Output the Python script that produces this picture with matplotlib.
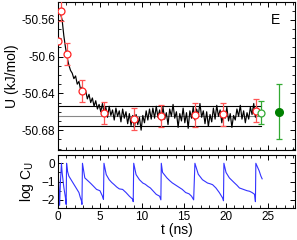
import numpy as np
import matplotlib
matplotlib.use("Agg")
import matplotlib.pyplot as plt
from matplotlib.ticker import MultipleLocator

plt.rcParams['font.family'] = ['Liberation Sans', 'DejaVu Sans']

# energy trace (kJ/mol), sampled every 0.2 ns from 0.1 ns
u_trace = [
    -50.551, -50.553, -50.560, -50.577, -50.590, -50.601, -50.609, -50.615, -50.618, -50.624,
    -50.621, -50.630, -50.627, -50.636, -50.633, -50.641, -50.637, -50.646, -50.641, -50.650,
    -50.645, -50.654, -50.648, -50.657, -50.652, -50.660, -50.651, -50.662, -50.655, -50.666,
    -50.654, -50.664, -50.658, -50.669, -50.656, -50.665, -50.659, -50.671, -50.657, -50.667,
    -50.660, -50.673, -50.662, -50.675, -50.664, -50.678, -50.663, -50.674, -50.666, -50.680,
    -50.664, -50.672, -50.659, -50.669, -50.657, -50.668, -50.656, -50.667, -50.654, -50.666,
    -50.658, -50.670, -50.655, -50.668, -50.661, -50.674, -50.657, -50.665, -50.652, -50.667,
    -50.660, -50.677, -50.662, -50.670, -50.656, -50.672, -50.661, -50.678, -50.659, -50.667,
    -50.655, -50.669, -50.657, -50.664, -50.651, -50.666, -50.659, -50.673, -50.660, -50.676,
    -50.663, -50.671, -50.656, -50.668, -50.653, -50.665, -50.658, -50.672, -50.660, -50.667,
    -50.655, -50.670, -50.662, -50.677, -50.664, -50.669, -50.657, -50.665, -50.653, -50.668,
    -50.659, -50.672, -50.661, -50.668, -50.655, -50.663, -50.651, -50.666, -50.656, -50.664,
    -50.660,
]
t_trace = np.linspace(0.1, 24.1, len(u_trace))

# block averages
t_blocks = [0.0, 0.36, 1.03, 2.86, 5.5, 9.0, 12.3, 16.3, 19.7, 23.6]
u_blocks = [-50.5835, -50.550, -50.597, -50.6375, -50.6616, -50.668, -50.6646, -50.6638, -50.6627, -50.659]
err_blocks = [0.0, 0.011, 0.0117, 0.0123, 0.0117, 0.0123, 0.0119, 0.013, 0.0126, 0.0126]

# equilibrated estimate and final estimate
t_open, u_open, err_open = 24.2, -50.661, 0.0122
t_final, u_final, err_final = 26.3, -50.6598, 0.0303

mean_u = -50.6646
sd_u = 0.0111
t_line_end = 24.2

# log autocorrelation
t_corr = [0.0, 0.1, 0.2, 0.3, 0.42, 0.5, 0.6, 0.7, 0.8, 0.9, 0.98,
          1.03, 1.15, 1.3, 1.5, 1.7, 1.9, 2.1, 2.3, 2.5, 2.65, 2.8, 2.86,
          2.92, 3.2, 3.6, 3.9, 4.2, 4.6, 5.0, 5.3, 5.42,
          5.48, 5.75, 6.1, 6.4, 6.7, 7.0, 7.3, 7.7, 8.1, 8.5, 8.9, 8.96,
          9.02, 9.3, 9.7, 10.1, 10.4, 10.7, 11.0, 11.3, 11.7, 12.1, 12.25,
          12.3, 12.45, 12.97, 13.3, 13.6, 14.2, 14.8, 15.2, 15.6, 15.9, 16.15,
          16.3, 16.7, 17.2, 17.8, 18.1, 18.4, 18.8, 19.2, 19.6, 19.7,
          19.75, 20.0, 20.4, 21.0, 21.3, 21.6, 22.2, 22.5, 22.8, 23.1, 23.4, 23.5,
          23.55, 23.95, 24.15, 24.3]
logc = [-0.1, -1.2, -2.3, -1.0, 0.0, -0.5, -0.9, -1.3, -1.6, -1.9, -2.25,
        0.0, -0.45, -0.7, -0.85, -1.0, -1.15, -1.3, -1.45, -1.6, -1.85, -2.05, -2.25,
        0.0, -0.8, -0.97, -1.1, -1.24, -1.43, -1.5, -1.8, -1.97,
        0.0, -0.62, -0.9, -1.05, -1.17, -1.3, -1.4, -1.43, -1.6, -1.8, -1.97, -2.1,
        0.0, -0.62, -0.9, -1.08, -1.15, -1.26, -1.35, -1.5, -1.7, -1.8, -2.0,
        0.0, -0.5, -0.8, -0.95, -1.07, -1.25, -1.43, -1.6, -1.67, -1.8, -2.0,
        0.0, -0.6, -0.9, -1.08, -1.12, -1.17, -1.35, -1.6, -1.9, -2.05,
        0.0, -0.5, -0.8, -1.07, -1.2, -1.35, -1.45, -1.5, -1.53, -1.6, -1.7, -2.1,
        0.0, -0.42, -0.7, -0.85]

fig = plt.figure(figsize=(2.97, 2.40), dpi=100)
ax1 = fig.add_axes([0.195, 0.375, 0.798, 0.617])
ax2 = fig.add_axes([0.195, 0.133, 0.798, 0.221])

ax1.plot(t_trace, u_trace, color='black', lw=0.85)
ax1.plot([0, t_line_end], [mean_u, mean_u], color='#888888', lw=0.8, zorder=1)
ax1.plot([0, t_line_end], [mean_u + sd_u, mean_u + sd_u], color='black', lw=0.8)
ax1.plot([0, t_line_end], [mean_u - sd_u, mean_u - sd_u], color='black', lw=0.8)
ax1.errorbar(t_blocks, u_blocks, yerr=err_blocks, fmt='o', ms=5, mfc='white', mec='#ff2222',
             mew=0.9, ecolor='#ff5555', elinewidth=0.9, capsize=2.5, capthick=0.9, zorder=4)
ax1.errorbar([t_open], [u_open], yerr=[err_open], fmt='o', ms=5, mfc='white', mec='#33aa33',
             mew=0.9, ecolor='#33aa33', elinewidth=0.9, capsize=2.5, capthick=0.9, zorder=4)
ax1.errorbar([t_final], [u_final], yerr=[err_final], fmt='o', ms=5.5, mfc='#008000', mec='#008000',
             ecolor='#33aa33', elinewidth=0.9, capsize=2.5, capthick=0.9, zorder=4)
ax1.text(0.92, 0.88, 'E', transform=ax1.transAxes, fontsize=10, ha='center', va='center')

ax1.set_xlim(0, 28.2)
ax1.set_ylim(-50.7016, -50.5405)
ax1.set_yticks([-50.56, -50.6, -50.64, -50.68])
ax1.set_yticklabels(['-50.56', '-50.6', '-50.64', '-50.68'])
ax1.yaxis.set_minor_locator(MultipleLocator(0.01))
ax1.xaxis.set_major_locator(MultipleLocator(5))
ax1.xaxis.set_minor_locator(MultipleLocator(1))
ax1.tick_params(labelbottom=False)
ax1.set_ylabel('U (kJ/mol)', fontsize=10, labelpad=2)

ax2.plot(t_corr, logc, color='#3333ff', lw=0.8)
ax2.set_xlim(0, 28.2)
ax2.set_ylim(-2.45, 0.45)
ax2.set_yticks([0, -1, -2])
ax2.yaxis.set_minor_locator(MultipleLocator(0.5))
ax2.xaxis.set_major_locator(MultipleLocator(5))
ax2.xaxis.set_minor_locator(MultipleLocator(1))
ax2.set_xlabel('t (ns)', fontsize=10, labelpad=0)
ax2.set_ylabel(r'log C$_\mathrm{U}$', fontsize=10, labelpad=4)

for ax in (ax1, ax2):
    ax.tick_params(which='both', direction='in', top=True, right=True, labelsize=8.5, pad=2)
    ax.tick_params(which='major', length=3.5, width=0.7)
    ax.tick_params(which='minor', length=2, width=0.6)
    for s in ax.spines.values():
        s.set_linewidth(0.8)

fig.savefig('out.png', dpi=100)
